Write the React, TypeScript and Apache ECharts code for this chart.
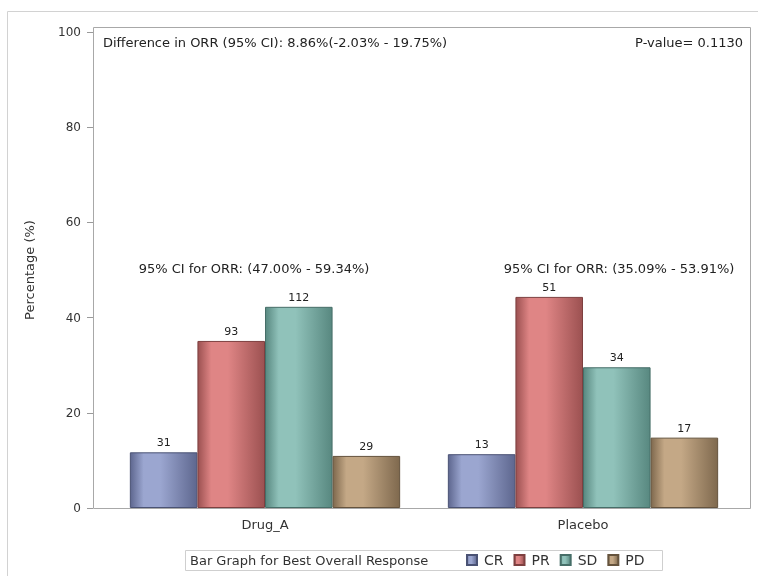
import React, { useEffect, useRef } from "react";
import * as echarts from "echarts";

// Treatment groups and response categories
const groups = ["Drug_A", "Placebo"];
const responses = ["CR", "PR", "SD", "PD"];

// Patient counts per response, one entry per group
const crCounts = [31, 13];
const prCounts = [93, 51];
const sdCounts = [112, 34];
const pdCounts = [29, 17];

// Y-axis ticks (percentage)
const yTicks = [0, 20, 40, 60, 80, 100];

// Annotation texts
const diffText = "Difference in ORR (95% CI): 8.86%(-2.03% - 19.75%)";
const pValueText = "P-value= 0.1130";
const ciTexts = ["95% CI for ORR: (47.00% - 59.34%)", "95% CI for ORR: (35.09% - 53.91%)"];
const legendTitle = "Bar Graph for Best Overall Response";

const FONT = "'DejaVu Sans', Verdana, sans-serif";

// light, dark, border shades per response
const shades: Record<string, [string, string, string]> = {
  CR: ["#9ba6d0", "#5e678f", "#4a5274"],
  PR: ["#df8585", "#9c5151", "#7e4040"],
  SD: ["#90c2ba", "#588880", "#466e68"],
  PD: ["#c4a886", "#7f694e", "#65533d"],
};

function barFill(key: string) {
  const [light, dark] = shades[key];
  return new echarts.graphic.LinearGradient(0, 0, 1, 0, [
    { offset: 0, color: dark },
    { offset: 0.2, color: light },
    { offset: 0.45, color: light },
    { offset: 1, color: dark },
  ]);
}

export default function App() {
  const ref = useRef<HTMLDivElement>(null);

  useEffect(() => {
    if (!ref.current) return;
    const chart = echarts.init(ref.current, undefined, { renderer: "svg" });

    const countsByResponse = [crCounts, prCounts, sdCounts, pdCounts];
    const totals = groups.map((_, g) =>
      countsByResponse.reduce((s, arr) => s + arr[g], 0)
    );

    const series = responses.map((key, i) => ({
      name: key,
      type: "bar",
      barGap: "0%",
      barCategoryGap: "15%",
      data: groups.map((_, g) => ({
        value: (countsByResponse[i][g] / totals[g]) * 100,
        count: countsByResponse[i][g],
      })),
      itemStyle: {
        color: barFill(key),
        borderColor: shades[key][2],
        borderWidth: 1,
      },
      label: {
        show: true,
        position: "top",
        distance: 4,
        fontFamily: FONT,
        fontSize: 11,
        color: "#222",
        formatter: (p: any) => String(p.data.count),
      },
    }));

    const option = {
      animation: false,
      grid: { left: 106, right: 16, top: 32, bottom: 68 },
      xAxis: {
        type: "category",
        data: groups,
        axisLine: { show: false },
        axisTick: { show: false },
        axisLabel: { fontFamily: FONT, fontSize: 13, color: "#333", margin: 10 },
      },
      yAxis: {
        type: "value",
        min: yTicks[0],
        max: yTicks[yTicks.length - 1],
        interval: yTicks[1] - yTicks[0],
        offset: 13,
        axisLine: { show: false },
        axisTick: { show: true, length: 6, lineStyle: { color: "#9a9a9a" } },
        splitLine: { show: false },
        axisLabel: { fontFamily: FONT, fontSize: 12, color: "#333", margin: 12 },
        name: "Percentage (%)",
        nameLocation: "middle",
        nameGap: 57,
        nameTextStyle: { fontFamily: FONT, fontSize: 13, color: "#333" },
      },
      legend: {
        data: responses,
        left: 461,
        top: 548,
        icon: "rect",
        itemWidth: 10,
        itemHeight: 10,
        itemGap: 10,
        textStyle: { fontFamily: FONT, fontSize: 14, color: "#333", padding: [0, 0, 0, 2] },
      },
      graphic: [
        {
          type: "rect",
          silent: true,
          shape: { x: 7.5, y: 11.5, width: 800, height: 600 },
          style: { fill: "none", stroke: "#d2d2d2", lineWidth: 1 },
        },
        {
          type: "rect",
          silent: true,
          shape: { x: 93.5, y: 27.5, width: 657, height: 481 },
          style: { fill: "none", stroke: "#a8a8a8", lineWidth: 1 },
        },
        {
          type: "text",
          x: 103,
          y: 42,
          style: { text: diffText, font: `13px ${FONT}`, fill: "#222", verticalAlign: "middle" },
        },
        {
          type: "text",
          x: 743,
          y: 42,
          style: { text: pValueText, font: `13px ${FONT}`, fill: "#222", align: "right", verticalAlign: "middle" },
        },
        {
          type: "text",
          x: 254,
          y: 268,
          style: { text: ciTexts[0], font: `13px ${FONT}`, fill: "#222", align: "center", verticalAlign: "middle" },
        },
        {
          type: "text",
          x: 619,
          y: 268,
          style: { text: ciTexts[1], font: `13px ${FONT}`, fill: "#222", align: "center", verticalAlign: "middle" },
        },
        {
          type: "rect",
          silent: true,
          shape: { x: 185.5, y: 550.5, width: 477, height: 20 },
          style: { fill: "none", stroke: "#cfcfcf", lineWidth: 1 },
        },
        {
          type: "text",
          x: 190,
          y: 560,
          style: { text: legendTitle, font: `13px ${FONT}`, fill: "#333", verticalAlign: "middle" },
        },
      ],
      series,
    };

    chart.setOption(option as any);
    return () => chart.dispose();
  }, []);

  return (
    <div
      ref={ref}
      style={{ position: "fixed", left: 0, top: 0, width: 758, height: 576 }}
    />
  );
}
